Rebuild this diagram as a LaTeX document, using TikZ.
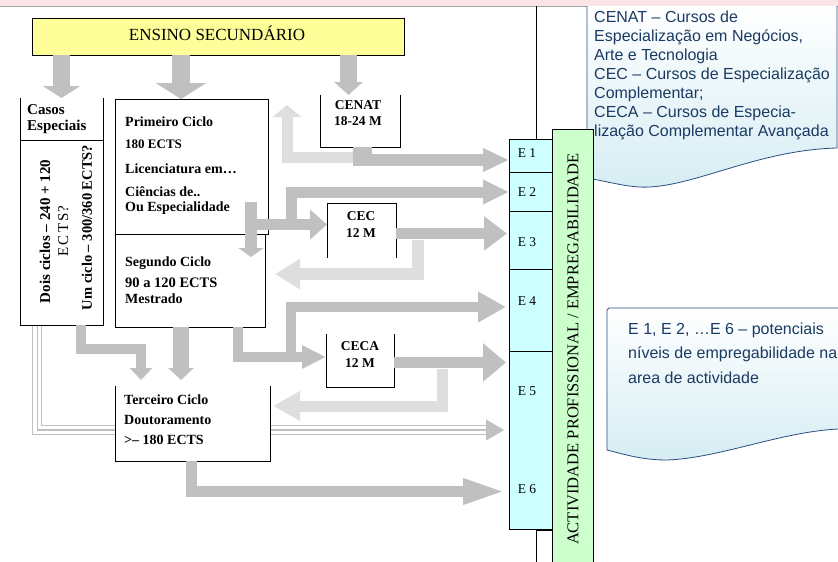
\documentclass[tikz,border=0pt]{standalone}
\usepackage{fontspec}
\setmainfont{Liberation Serif}
\newfontfamily\arsans{Liberation Sans}
\usetikzlibrary{arrows.meta}
\definecolor{ag}{HTML}{C0C0C0}
\definecolor{al}{HTML}{DEDEDE}
\definecolor{yel}{HTML}{FFFF99}
\definecolor{cyn}{HTML}{CCFFFF}
\definecolor{grn}{HTML}{CCFFCC}
\definecolor{pnk}{HTML}{F9E4E6}
\definecolor{navy}{HTML}{1B3A63}
\definecolor{cbord}{HTML}{2B4F7E}
\definecolor{cfill}{HTML}{D6EDF3}
\begin{document}
\begin{tikzpicture}[x=1pt,y=-1pt,
  bx/.style={draw=black,line width=0.75pt,fill=white,inner sep=0pt,outer sep=0pt},
  ob/.style={fill=white,inner sep=0pt,outer sep=0pt},
  side/.style={draw=black,line width=0.75pt},
  tb/.style={font=\fontsize{14}{15}\selectfont\bfseries,inner sep=0pt,anchor=west},
  tc/.style={font=\fontsize{13.5}{15}\selectfont\bfseries,inner sep=0pt},
  el/.style={font=\fontsize{13.5}{15}\selectfont,inner sep=0pt},
  ga/.style={draw=ag,line width=#1,line join=miter},
  la/.style={draw=al,line width=#1,line join=miter},
  ecell/.style={draw=black,line width=0.75pt,fill=cyn,inner sep=0pt,outer sep=0pt,minimum width=43pt}
]
\useasboundingbox (0,0) rectangle (838,562);
\clip (0,0) rectangle (838,562);
\fill[white] (0,0) rectangle (838,562);
% top strip
\fill[pnk] (0,0) rectangle (838,6);
\draw[gray!70,line width=0.6pt] (0,6) -- (838,6);
% callouts
\draw[top color=white,bottom color=cfill,draw=cbord,line width=0.8pt]
  (587,6) -- (587,178) .. controls (615,183) and (630,188) .. (650,187)
  .. controls (700,184) and (760,150) .. (837,148) -- (837,6);
\draw[top color=white,bottom color=cfill,draw=cbord,line width=0.8pt]
  (848,308) -- (609,308) -- (607,310) -- (607,450) .. controls (630,456) and (645,460) .. (667,460)
  .. controls (720,458) and (780,432) .. (838,429) -- (848,429);
% thin lines behind the column
\draw[line width=0.75pt] (536,6) -- (536,139);
\draw[line width=0.75pt] (536,562) -- (536,530) -- (552,530);

% boxes
\node[bx,fill=yel,minimum width=372pt,minimum height=37pt] (ens) at (218,36.5) {};
\node[ob,minimum width=83pt,minimum height=227pt] (casos) at (61.5,211.5) {};

% triple line connector (behind Terceiro)
\coordinate (tl1) at (37.3,430);
\coordinate (tl2) at (486,430);
\draw[ag,line width=10.2pt,line join=miter] (37.3,0 |- casos.south) -- (tl1) -- (tl2);
\draw[white,line width=7.8pt,line join=miter] ([yshift=-1pt]37.3,0 |- casos.south) -- (tl1) -- (tl2);
\draw[ag,line width=1.2pt,line join=miter] (37.3,0 |- casos.south) -- (tl1) -- (tl2);
\draw[ag,line width=1pt] (296,425) -- (486,425);
\draw[ag,line width=1pt,-{Triangle[width=21pt,length=18pt]}] (480,430) -- (504,430);

\draw[side] (casos.north west) -- (casos.south west) -- (casos.south east) -- (casos.north east);
\draw[side] (casos.west |- 0,140) -- (casos.east |- 0,140);
\node[bx,minimum width=150pt,minimum height=93pt] (seg) at (190,280.5) {};
\node[bx,minimum width=153pt,minimum height=135pt] (prim) at (191.5,166.5) {};
\node[ob,minimum width=80pt,minimum height=52pt] (cenat) at (360,121) {};
\draw[side] (cenat.north west) -- (cenat.south west) -- (cenat.south east) -- (cenat.north east);
\node[ob,minimum width=69pt,minimum height=55pt] (cec) at (361.5,230.5) {};
\draw[side] (cec.south west) -- (cec.north west) -- (cec.north east) -- (cec.south east);
\node[ob,minimum width=68pt,minimum height=53pt] (ceca) at (360,360.5) {};
\draw[side] (ceca.north west) -- (ceca.south west) -- (ceca.south east) -- (ceca.north east);
\node[ob,minimum width=155pt,minimum height=75pt] (terc) at (192.5,423.5) {};
\draw[side] (terc.north west) -- (terc.south west) -- (terc.south east) -- (terc.north east);

% E column and green bar
\node[draw=black,line width=0.75pt,fill=grn,inner sep=0pt,outer sep=0pt,minimum width=41pt,minimum height=445pt] (green) at (572.5,351.5) {};
\node[ecell,minimum height=33pt] (e1) at (530.5,155.5) {};
\node[ecell,minimum height=39pt] (e2) at (530.5,191.5) {};
\node[ecell,minimum height=58pt] (e3) at (530.5,240) {};
\node[ecell,minimum height=82pt] (e4) at (530.5,310) {};
\node[ecell,minimum height=178pt] (e5) at (530.5,440) {};

% light (return) arrows
\coordinate (r1) at (287,105);
\draw[la=11pt,-{Triangle[width=28pt,length=12pt]}] (355,157.5) -- (287,157.5) -- (r1);
\draw[la=12pt,-{Triangle[width=29pt,length=25pt]}] (417.5,240) -- (417.5,274) -- ([xshift=10pt]seg.east |- 0,274);
\draw[la=11pt,-{Triangle[width=28pt,length=27pt]}] (442,369) -- (442,406) -- ([xshift=3pt]terc.east |- 0,406);

% grey arrows
\draw[ga=17pt,-{Triangle[width=37pt,length=12pt]}] (61.5,0 |- ens.south) -- (61.5,0 |- casos.north);
\draw[ga=18pt,-{Triangle[width=50pt,length=16pt]}] (181,0 |- ens.south) -- (181,0 |- prim.north);
\draw[ga=17pt,-{Triangle[width=28pt,length=13pt]}] (348.5,0 |- ens.south) -- (348.5,0 |- cenat.north);
\draw[ga=19pt] (362.5,0 |- cenat.south) -- (362.5,166);
\draw[ga=12pt,-{Triangle[width=22pt,length=26pt]}] (356,160) -- (e1.west |- 0,160);
\coordinate (j1) at (245,224.5);
\draw[ga=11pt,-{Triangle[width=29pt,length=17pt]}] (j1) -- (cec.west |- j1);
\draw[ga=11pt,-{Triangle[width=23pt,length=26pt]}] (291,226) -- (291,192) -- (e2.west |- 0,192);
\draw[ga=12pt,-{Triangle[width=25pt,length=9pt]}] (251,202) -- (251,257);
\draw[ga=11pt,-{Triangle[width=33pt,length=23pt]}] (cec.east |- 0,233.5) -- ([xshift=-2pt]e3.west |- 0,233.5);
\draw[ga=10pt,-{Triangle[width=29pt,length=28pt]}] (290.5,359) -- (290.5,307) -- ([xshift=-3pt]e4.west |- 0,307);
\draw[ga=10pt,-{Triangle[width=22pt,length=24pt]}] (238,0 |- seg.south) -- (238,357) -- (ceca.west |- 0,357);
\draw[ga=11pt,-{Triangle[width=37pt,length=23pt]}] (ceca.east |- 0,362.5) -- ([xshift=-3pt]e5.west |- 0,362.5);
\draw[ga=10pt,-{Triangle[width=22pt,length=12pt]}] (81,0 |- casos.south) -- (81,349) -- (141,349) -- ([yshift=6pt]141,0 |- terc.north);
\draw[ga=16pt,-{Triangle[width=25pt,length=12pt]}] (181,0 |- seg.south) -- ([yshift=6pt]181,0 |- terc.north);
\draw[ga=11pt,-{Triangle[width=23pt,length=44pt]}] (191,0 |- terc.south) -- (191,491.5) -- ([xshift=-2pt]e5.west |- 0,491.5);

% texts
\node[font=\fontsize{17}{19}\selectfont,inner sep=0pt] (enst) at (217,33.5) {ENSINO SECUNDÁRIO};
\node[tb,font=\fontsize{15}{16}\selectfont\bfseries] (ct1) at (27,110) {Casos};
\node[tb,font=\fontsize{15}{16}\selectfont\bfseries] (ct2) at (27,127) {Especiais};
\node[rotate=90,align=center,inner sep=0pt,font=\fontsize{15}{18}\selectfont\bfseries] (dois) at (54,231.5) {Dois ciclos – 240 + 120\\ \mdseries E\,C\,T\,S?};
\node[rotate=90,inner sep=0pt,font=\fontsize{14.5}{16}\selectfont\bfseries] (umc) at (87,227.5) {Um ciclo – 300/360 ECTS?};
\node[tb] (p1) at (125,122) {Primeiro Ciclo};
\node[tb,font=\fontsize{13}{15}\selectfont\bfseries] (p2) at (125,144) {180 ECTS};
\node[tb] (p3) at (125,169) {Licenciatura em…};
\node[tb] (p4) at (125,192) {Ciências de..};
\node[tb] (p5) at (125,208) {Ou Especialidade};
\node[tb] (s1) at (125,263) {Segundo Ciclo};
\node[tb,font=\fontsize{14.5}{16}\selectfont\bfseries] (s2) at (125,283) {90 a 120 ECTS};
\node[tb] (s3) at (125,299) {Mestrado};
\node[tb] (t1) at (124,400) {Terceiro Ciclo};
\node[tb] (t2) at (124,420) {Doutoramento};
\node[tb] (t3) at (124,440) {>– 180 ECTS};
\node[tc] (c1) at (358,105) {CENAT};
\node[tc] (c2) at (358,121) {18-24 M};
\node[tc] (c3) at (361,216) {CEC};
\node[tc] (c4) at (361,233) {12 M};
\node[tc] (c5) at (360,346) {CECA};
\node[tc] (c6) at (360,363) {12 M};
\node[el] (l1) at (527,153) {E 1};
\node[el] (l2) at (527,192) {E 2};
\node[el] (l3) at (527,242) {E 3};
\node[el] (l4) at (527,301) {E 4};
\node[el] (l5) at (527,391) {E 5};
\node[el] (l6) at (527,489) {E 6};
\node[rotate=90,inner sep=0pt,font=\fontsize{16.5}{18}\selectfont] (act) at (573,349) {ACTIVIDADE PROFISSIONAL / EMPREGABILIDADE};
\node[anchor=north west,align=left,inner sep=0pt,text=navy,font=\arsans\fontsize{16}{19}\selectfont] (leg1) at (594,11)
 {CENAT – Cursos de\\Especialização em Negócios,\\Arte e Tecnologia\\CEC – Cursos de Especialização\\Complementar;\\CECA – Cursos de Especia-\\lização Complementar Avançada};
\node[anchor=north west,align=left,inner sep=0pt,text=navy,font=\arsans\fontsize{16}{24.5}\selectfont] (leg2) at (628,322.5)
 {E 1, E 2, …E 6 – potenciais\\níveis de empregabilidade na\\area de actividade};
\end{tikzpicture}
\end{document}
